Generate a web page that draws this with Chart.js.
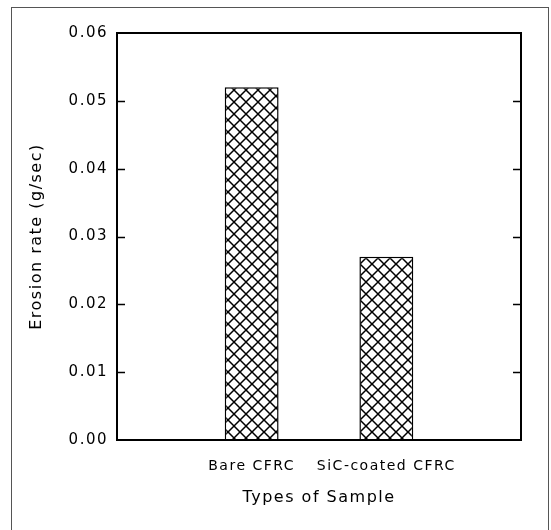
<!DOCTYPE html>
<html>
<head>
<meta charset="utf-8">
<script src="https://cdn.jsdelivr.net/npm/chart.js@4/dist/chart.umd.min.js"></script>
<style>
  html, body { margin: 0; padding: 0; background: #fff; overflow: hidden; }
  #wrap { position: relative; width: 551px; height: 530px; }
  #frame { position: absolute; left: 11px; top: 7px; width: 536px; height: 540px;
           border-top: 1px solid #555; border-left: 1px solid #555; border-right: 1px solid #555;
           pointer-events: none; }
  canvas { display: block; }
</style>
</head>
<body>
<div id="wrap">
  <canvas id="c" width="551" height="530"></canvas>
  <div id="frame"></div>
</div>
<script>
// ---- data ----
const categories = ['Bare CFRC', 'SiC-coated CFRC'];
const erosionRate = [0.052, 0.027];
const yMin = 0, yMax = 0.06, yStep = 0.01;
const xTitle = 'Types of Sample';
const yTitle = 'Erosion rate (g/sec)';

// padded category slots so bars sit at 1/3 and 2/3 of the axis
const slotLabels = ['', ...categories, ''];
const slotValues = [null, ...erosionRate, null];

// crosshatch pattern
function makeHatch() {
  const p = 12;
  const c = document.createElement('canvas');
  c.width = p; c.height = p;
  const g = c.getContext('2d');
  g.fillStyle = '#fff';
  g.fillRect(0, 0, p, p);
  g.strokeStyle = '#000';
  g.lineWidth = 1.5;
  g.beginPath();
  g.moveTo(-1, -1); g.lineTo(p + 1, p + 1);
  g.moveTo(p + 1, -1); g.lineTo(-1, p + 1);
  g.stroke();
  return g.createPattern(c, 'repeat');
}

const spacing = {
  id: 'spacing',
  beforeUpdate(chart) { chart.ctx.letterSpacing = '1.5px'; },
  beforeLayout(chart) { chart.ctx.letterSpacing = '1.5px'; },
  beforeDraw(chart) { chart.ctx.letterSpacing = '1.5px'; }
};

const boxAndTicks = {
  id: 'boxAndTicks',
  afterDraw(chart) {
    const { ctx, chartArea: a, scales: { y } } = chart;
    ctx.save();
    ctx.strokeStyle = '#000';
    ctx.lineWidth = 1.5;
    const n = y.ticks.length;
    y.ticks.forEach((t, i) => {
      if (i === 0 || i === n - 1) return;
      const py = Math.round(y.getPixelForValue(t.value)) + 0.5;
      ctx.beginPath();
      ctx.moveTo(a.left, py); ctx.lineTo(a.left + 8, py);
      ctx.moveTo(a.right - 8, py); ctx.lineTo(a.right, py);
      ctx.stroke();
    });
    ctx.lineWidth = 2;
    ctx.strokeRect(a.left, a.top, a.right - a.left, a.bottom - a.top);
    ctx.restore();
  }
};

const fontFamily = '"DejaVu Sans", sans-serif';

new Chart(document.getElementById('c'), {
  type: 'bar',
  data: {
    labels: slotLabels,
    datasets: [{
      data: slotValues,
      backgroundColor: makeHatch(),
      borderColor: '#000',
      borderWidth: 1.5,
      categoryPercentage: 1,
      barPercentage: 0.4
    }]
  },
  options: {
    responsive: false,
    animation: false,
    devicePixelRatio: 1,
    layout: { padding: { top: 33, right: 30, left: 0, bottom: 0 } },
    plugins: { legend: { display: false }, tooltip: { enabled: false } },
    scales: {
      x: {
        offset: false,
        grid: { display: false, drawTicks: false },
        border: { display: false },
        ticks: {
          color: '#000', padding: 18, maxRotation: 0, autoSkip: false,
          font: { family: fontFamily, size: 14 }
        },
        title: {
          display: true, text: xTitle, color: '#000',
          font: { family: fontFamily, size: 16 },
          padding: { top: 0, bottom: 23 }
        },
        afterFit(s) { s.height = 90; }
      },
      y: {
        min: yMin, max: yMax,
        grid: { display: false, drawTicks: false },
        border: { display: false },
        ticks: {
          stepSize: yStep, color: '#000', padding: 9,
          font: { family: fontFamily, size: 15 },
          callback: v => Number(v).toFixed(2)
        },
        title: {
          display: true, text: yTitle, color: '#000',
          font: { family: fontFamily, size: 16 },
          padding: { top: 27, bottom: 0 }
        },
        afterFit(s) { s.width = 117; }
      }
    }
  },
  plugins: [spacing, boxAndTicks]
});
</script>
</body>
</html>
